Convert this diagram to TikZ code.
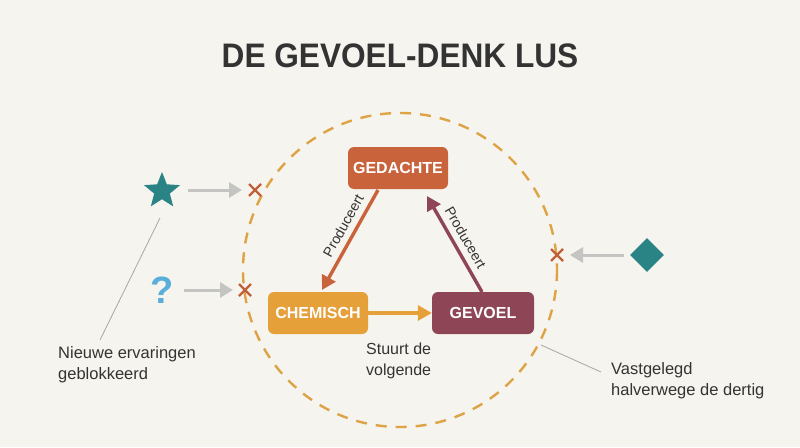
\documentclass[tikz,border=0pt]{standalone}
\usepackage{fontspec}
\setmainfont{Liberation Sans}
\newfontfamily\titlefont[FakeStretch=0.93]{Liberation Sans}
\usetikzlibrary{arrows.meta,shapes.geometric,calc}
\definecolor{bg}{HTML}{F6F4EE}
\definecolor{terra}{HTML}{C9633C}
\definecolor{orng}{HTML}{E6A03A}
\definecolor{maroon}{HTML}{8E4556}
\definecolor{teal}{HTML}{2A8385}
\definecolor{qblue}{HTML}{5AAEDC}
\definecolor{xmark}{HTML}{C0603A}
\definecolor{greyarr}{HTML}{C4C4C2}
\definecolor{dashc}{HTML}{DDA345}
\definecolor{txt}{HTML}{333333}
\tikzset{
  box/.style={rounded corners=6pt, minimum width=100pt, minimum height=42pt, text=white, font=\fontsize{16}{18}\selectfont\bfseries, inner sep=0pt},
  flow/.style={line width=3.4pt, -{Triangle[length=14pt,width=15pt]}},
  blocked/.style={line width=3pt, greyarr, -{Triangle[length=13pt,width=15pt]}},
  note/.style={font=\fontsize{16.5}{21}\selectfont, text=txt, align=left, anchor=north west, inner sep=0pt},
  lead/.style={draw=gray!70, line width=0.8pt},
  lbl/.style={font=\fontsize{14}{16}\selectfont, text=txt, inner sep=1pt}
}
\newcommand{\xmarkat}[1]{\draw[xmark, line width=2.4pt] ($(#1)+(-6,-6)$) -- ($(#1)+(6,6)$) ($(#1)+(-6,6)$) -- ($(#1)+(6,-6)$);}
\begin{document}
\begin{tikzpicture}[x=1pt,y=-1pt]
\fill[bg] (0,0) rectangle (800,447);
\useasboundingbox (0,0) rectangle (800,447);
% title
\node[font=\titlefont\fontsize{34}{38}\selectfont\bfseries, text=txt] (title) at (400,56) {DE GEVOEL-DENK LUS};
% dashed circle
\draw[dashc, line width=2.4pt, dash pattern=on 11pt off 9pt] (400,270) circle[radius=157];
% boxes
\node[box, fill=terra] (ged) at (398,168) {GEDACHTE};
\node[box, fill=orng] (chem) at (318,313) {CHEMISCH};
\node[box, fill=maroon, minimum width=102pt] (gev) at (483,313) {GEVOEL};
% arrows
\draw[flow, terra] (378,190) -- node[lbl, sloped, above=5pt, pos=0.42] {Produceert} (322,290);
\draw[flow, maroon] (482,292) -- node[lbl, sloped, above=5pt, pos=0.5] {Produceert} (427,196);
\draw[flow, orng] (chem.east) -- (gev.west);
\node[lbl, font=\fontsize{16}{21}\selectfont, align=left, anchor=north west, inner sep=0pt] (stuurt) at (366,343) {Stuurt de\\volgende};
% blocked inputs
\node[star, star points=5, star point ratio=2.3, fill=teal, minimum size=38pt, inner sep=0pt] (star) at (162,191) {};
\node[font=\fontsize{38}{40}\selectfont\bfseries, text=qblue] (q) at (162,290) {?};
\node[diamond, fill=teal, minimum size=34pt, inner sep=0pt] (dia) at (647,255) {};
\coordinate (x1) at (255,190);
\coordinate (x2) at (245,290);
\coordinate (x3) at (557,255);
\draw[blocked] (188,190) -- (242,190);
\draw[blocked] (184,290) -- (233,290);
\draw[blocked] (624,255) -- (570,255);
\xmarkat{x1}
\xmarkat{x2}
\xmarkat{x3}
% notes
\node[note] (n1) at (58,346) {Nieuwe ervaringen\\geblokkeerd};
\node[note] (n2) at (611,362) {Vastgelegd\\halverwege de dertig};
\draw[lead] (160,218) -- (100,340);
\draw[lead] (541,345) -- (601,372);
\end{tikzpicture}
\end{document}
